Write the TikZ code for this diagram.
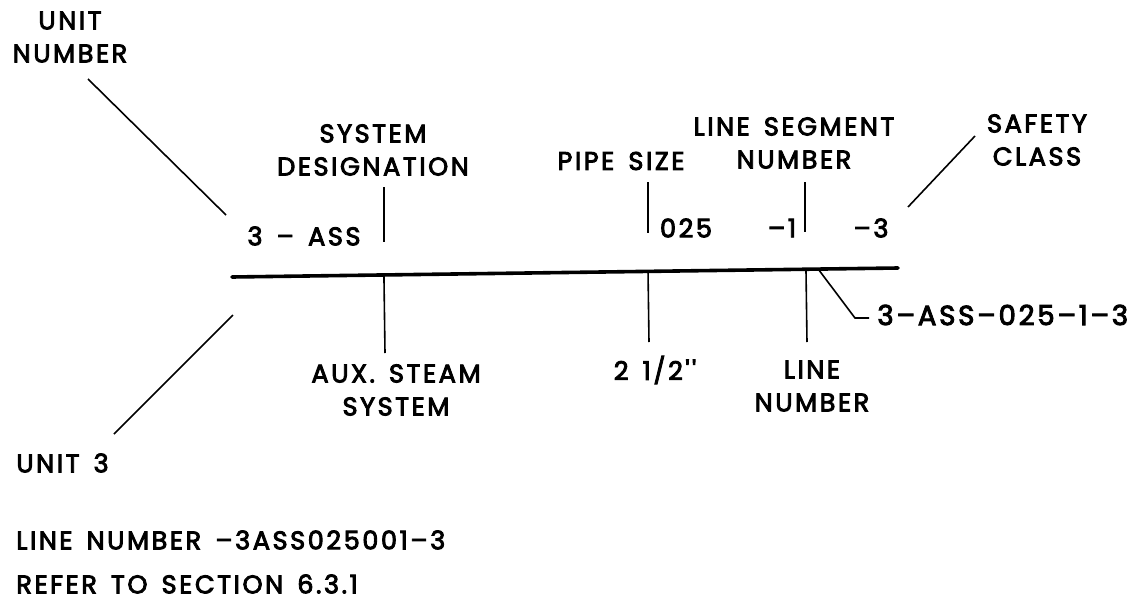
\documentclass[tikz,border=0pt]{standalone}
\usepackage{fontspec}
\newfontfamily\lblfont{Poppins}[LetterSpace=10, FakeBold=3.4, WordSpace=1.5]
\usepackage{tikz}
\usetikzlibrary{positioning, calc}
\tikzstyle{lbl} = [inner sep=0pt, align=center, font=\fontsize{12.8}{16.5}\selectfont\lblfont]
\tikzstyle{lead} = [line width=0.8pt]
\tikzstyle{pipe} = [line width=1.8pt, line cap=round]

\begin{document}
\begin{tikzpicture}[x=0.5pt, y=-0.5pt]
    \useasboundingbox (0,0) rectangle (1137,600);

    % the line itself
    \coordinate (pipeL) at (232,277);
    \coordinate (pipeR) at (898,268);

    \node (unitnum) [lbl] at (70,37) {UNIT\\NUMBER};
    \node (sysdes) [lbl] at (373,150) {SYSTEM\\DESIGNATION};
    \node (pipesize) [lbl] at (621,161) {PIPE SIZE};
    \node (segnum) [lbl] at (794,143) {LINE SEGMENT\\NUMBER};
    \node (safety) [lbl] at (1037,140) {SAFETY\\CLASS};

    \node (sysass) [lbl] at (304,236) {3 \textendash\ ASS};
    \node (size) [lbl] at (686,228) {025};
    \node (seg) [lbl] at (782,228) {\textendash1};
    \node (cls) [lbl] at (871,228) {\textendash3};

    \node (aux) [lbl] at (396,390) {AUX. STEAM\\SYSTEM};
    \node (inch) [lbl] at (655,370) {2 1/2''};
    \node (linenum) [lbl] at (812,386) {LINE\\NUMBER};
    \node (full) [lbl, anchor=west, font=\fontsize{13.8}{16.5}\selectfont\lblfont] at (877,315) {3\textendash ASS\textendash 025\textendash 1\textendash 3};

    \node (unit) [lbl, anchor=west] at (16,463) {UNIT 3};
    \node (code) [lbl, anchor=west] at (16,540) {LINE NUMBER \textendash 3ASS025001\textendash 3};
    \node (refer) [lbl, anchor=west] at (16,584) {REFER TO SECTION 6.3.1};

    % leader ends
    \coordinate (a1) at (88,79);    \coordinate (a2) at (226,215);
    \coordinate (b1) at (384,187);  \coordinate (b2) at (384,242);
    \coordinate (c1) at (648,182);  \coordinate (c2) at (648,233);
    \coordinate (d1) at (805,182);  \coordinate (d2) at (805,232);
    \coordinate (e1) at (975,136);  \coordinate (e2) at (908,207);
    \coordinate (f1) at (233,315);  \coordinate (f2) at (114,434);
    \coordinate (g1) at (385,353);
    \coordinate (h1) at (649,342);
    \coordinate (k1) at (807,342);
    \coordinate (m1) at (818,250);
    \coordinate (m2) at (855,318);

    % Edges
    \draw[pipe] (pipeL) -- (pipeR);
    \draw[lead] (a1) -- (a2);
    \draw[lead] (b1) -- (b2);
    \draw[lead] (c1) -- (c2);
    \draw[lead] (d1) -- (d2);
    \draw[lead] (e1) -- (e2);
    \draw[lead] (f1) -- (f2);
    \draw[lead] (g1) -- ($(pipeL)!(g1)!(pipeR)$);
    \draw[lead] (h1) -- ($(pipeL)!(h1)!(pipeR)$);
    \draw[lead] (k1) -- ($(pipeL)!(k1)!(pipeR)$);
    \draw[lead, shorten >=4pt] ($(pipeL)!(m1)!(pipeR)$) -- (m2) -- (m2 -| full.west);
    \end{tikzpicture}
\end{document}
